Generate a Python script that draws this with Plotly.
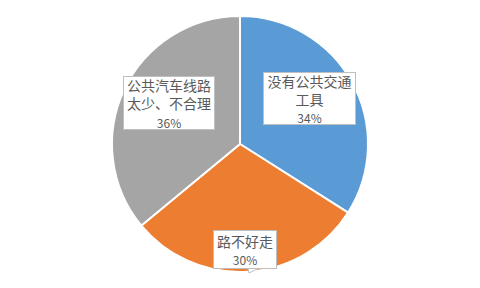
import plotly.graph_objects as go

# Reasons for not choosing public transport
labels = ["没有公共交通<br>工具", "路不好走", "公共汽车线路<br>太少、不合理"]
values = [34, 30, 36]
colors = ["#5B9BD5", "#ED7D31", "#A5A5A5"]

W, H = 480, 288

fig = go.Figure(
    go.Pie(
        labels=labels,
        values=values,
        sort=False,
        direction="clockwise",
        rotation=0,
        marker=dict(colors=colors, line=dict(color="white", width=2)),
        textinfo="none",
        hoverinfo="skip",
        showlegend=False,
        domain=dict(x=[112 / W, 368 / W], y=[1 - 273 / H, 1 - 15 / H]),
    )
)

# Data-label boxes (centre in pixels, box size in pixels)
label_boxes = [
    (309.5, 98.5, 89, 49),
    (245.0, 249.5, 60, 35),
    (169.0, 103.0, 88, 50),
]

total = sum(values)
for (cx, cy, bw, bh), lab, v in zip(label_boxes, labels, values):
    pct = round(100 * v / total)
    fig.add_annotation(
        x=cx / W,
        y=1 - cy / H,
        xref="paper",
        yref="paper",
        xanchor="center",
        yanchor="middle",
        text=f"{lab}<br><span style='font-size:12px'>{pct}%</span>",
        showarrow=False,
        font=dict(family="Noto Sans CJK SC", size=14, color="#595959"),
        align="center",
        bgcolor="white",
        bordercolor="#BFBFBF",
        borderwidth=1,
        borderpad=1,
        width=bw,
        height=bh,
        valign="middle",
    )

# Small callout pointer under the bottom label
px = lambda x: x / W
py = lambda y: 1 - y / H
fig.add_shape(
    type="path",
    xref="paper",
    yref="paper",
    path=f"M {px(248)} {py(268.5)} L {px(249)} {py(273)} L {px(258)} {py(268.5)} Z",
    fillcolor="white",
    line=dict(color="#BFBFBF", width=1),
)
fig.add_shape(
    type="line",
    xref="paper",
    yref="paper",
    x0=px(248.6), y0=py(268.5), x1=px(257.4), y1=py(268.5),
    line=dict(color="white", width=1.5),
)

fig.update_layout(
    width=W,
    height=H,
    margin=dict(l=0, r=0, t=0, b=0),
    paper_bgcolor="white",
    plot_bgcolor="white",
)

fig.write_html("out.html")
